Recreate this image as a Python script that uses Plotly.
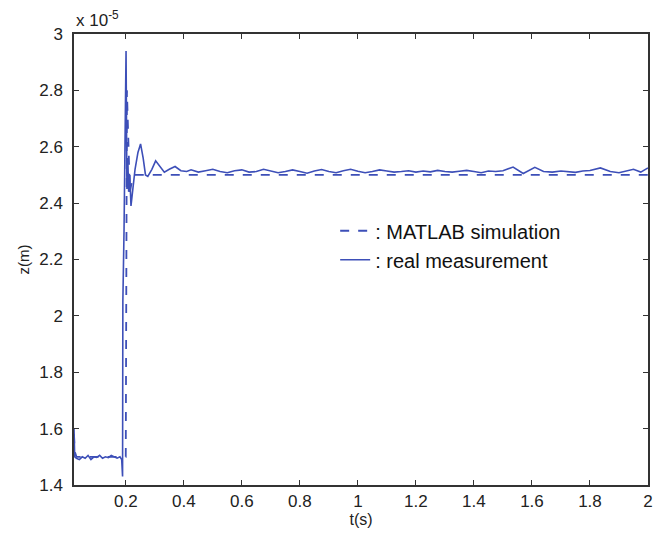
import plotly.graph_objects as go

# z values are in units of 1e-5 m (axis shows "x 10^-5")

# MATLAB simulation (dashed)
t_sim = [0.0216, 0.024, 0.03, 0.199, 0.2, 0.204, 0.214, 0.222, 0.23, 2.0]
z_sim = [1.58, 1.52, 1.50, 1.50, 1.50, 2.80, 2.44, 2.48, 2.50, 2.50]

# real measurement (solid)
t_meas = [0.0216, 0.024, 0.03, 0.04, 0.05, 0.06, 0.07, 0.08, 0.09, 0.10,
          0.11, 0.12, 0.13, 0.14, 0.15, 0.16, 0.17, 0.18, 0.186, 0.189,
          0.19, 0.194, 0.198, 0.201, 0.204, 0.207, 0.21, 0.214, 0.218, 0.224,
          0.232, 0.242, 0.251, 0.26, 0.268, 0.276, 0.29, 0.303, 0.318, 0.333,
          0.35, 0.37, 0.39, 0.41,
          0.425, 0.45, 0.475, 0.5, 0.525, 0.55, 0.575, 0.6, 0.625, 0.65,
          0.675, 0.7, 0.725, 0.75, 0.775, 0.8, 0.825, 0.85, 0.875, 0.9,
          0.925, 0.95, 0.975, 1.0, 1.025, 1.05, 1.075, 1.1, 1.125, 1.15,
          1.175, 1.2, 1.225, 1.25, 1.275, 1.3, 1.325, 1.35, 1.375, 1.4,
          1.425, 1.45, 1.475, 1.5, 1.535, 1.57, 1.61, 1.64, 1.67, 1.7,
          1.725, 1.75, 1.775, 1.8, 1.836, 1.87, 1.9, 1.925, 1.95, 1.975, 2.0]
z_meas = [1.60, 1.50, 1.495, 1.49, 1.50, 1.495, 1.505, 1.49, 1.50, 1.498,
          1.505, 1.495, 1.50, 1.497, 1.505, 1.50, 1.495, 1.50, 1.49, 1.43,
          2.05, 2.30, 2.70, 2.94, 2.45, 2.56, 2.44, 2.50, 2.39, 2.44,
          2.52, 2.58, 2.61, 2.56, 2.50, 2.495, 2.52, 2.55, 2.53, 2.51,
          2.52, 2.53, 2.515, 2.512,
          2.518, 2.510, 2.515, 2.520, 2.512, 2.508, 2.515, 2.518, 2.510, 2.512,
          2.520, 2.514, 2.508, 2.512, 2.518, 2.512, 2.506, 2.514, 2.519, 2.512,
          2.508, 2.515, 2.520, 2.513, 2.508, 2.512, 2.518, 2.514, 2.510, 2.512,
          2.515, 2.510, 2.514, 2.511, 2.516, 2.512, 2.510, 2.513, 2.516, 2.512,
          2.508, 2.514, 2.512, 2.515, 2.528, 2.505, 2.527, 2.512, 2.510, 2.514,
          2.512, 2.509, 2.514, 2.516, 2.525, 2.512, 2.508, 2.515, 2.520, 2.510, 2.525]

blue = '#3d4fb8'
font = 'Liberation Sans, Arial, sans-serif'

fig = go.Figure()
fig.add_trace(go.Scatter(x=t_sim, y=z_sim, mode='lines', name=': MATLAB simulation',
                         line=dict(color=blue, width=1.8, dash='dash')))
fig.add_trace(go.Scatter(x=t_meas, y=z_meas, mode='lines', name=': real measurement',
                         line=dict(color=blue, width=1.6)))

axis_style = dict(showline=True, linecolor='#333', linewidth=1.5, mirror='ticks',
                  ticks='inside', ticklen=5, tickcolor='#333', showgrid=False,
                  zeroline=False, tickfont=dict(size=17, color='#222'))

fig.update_xaxes(range=[0.0216, 2], tick0=0, dtick=0.2,
                 title=dict(text='t(s)', font=dict(size=16, color='#222'), standoff=2),
                 **axis_style)
fig.update_yaxes(range=[1.4, 3], tick0=1.4, dtick=0.2, ticklabelstandoff=6,
                 title=dict(text='z(m)', font=dict(size=15, color='#222'), standoff=6),
                 **axis_style)

fig.add_annotation(text='x 10<sup>-5</sup>', xref='paper', yref='paper', x=0, y=1.005,
                   xanchor='left', yanchor='bottom', showarrow=False,
                   font=dict(size=17, color='#222'))

# page body adds an 8px offset, so the figure is a bit smaller with trimmed margins
fig.update_layout(
    width=658, height=528,
    margin=dict(l=66, r=18, t=26, b=48),
    paper_bgcolor='white', plot_bgcolor='white',
    font=dict(family=font, color='#222'),
    legend=dict(x=0.455, y=0.607, xanchor='left', yanchor='top', bgcolor='rgba(0,0,0,0)',
                font=dict(size=20, color='#111'), tracegroupgap=0),
)

fig.write_html("out.html")
